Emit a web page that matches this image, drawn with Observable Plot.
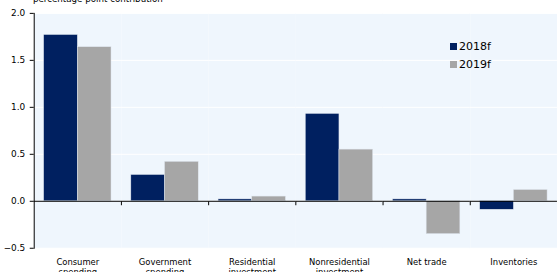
<!DOCTYPE html>
<html>
<head>
<meta charset="utf-8">
<script src="https://cdn.jsdelivr.net/npm/d3@7"></script>
<script src="https://cdn.jsdelivr.net/npm/@observablehq/plot@0.6"></script>
<style>
  html, body { margin: 0; padding: 0; background: #fff; overflow: hidden; }
  #wrap { position: relative; width: 557px; height: 274px; overflow: hidden; font-family: "DejaVu Sans", sans-serif; }
  #title { position: absolute; left: 33px; top: -6px; font-size: 8.7px; color: #000; white-space: nowrap; }
  #legend { position: absolute; left: 450px; top: 37px; font-size: 11px; color: #000; }
  #legend div { display: flex; align-items: center; height: 18px; }
  #legend span.sw { display: inline-block; width: 7px; height: 7px; margin-right: 2px; }
  #chart { position: absolute; left: 0; top: 0; }
</style>
</head>
<body>
<div id="wrap">
  <div id="chart"></div>
  <div id="title">percentage point contribution</div>
  <div id="legend"></div>
</div>
<script>
const categories = ["Consumer spending", "Government spending", "Residential investment", "Nonresidential investment", "Net trade", "Inventories"];
const seriesNames = ["2018f", "2019f"];
const values2018 = [1.77, 0.28, 0.02, 0.93, 0.02, -0.09];
const values2019 = [1.64, 0.42, 0.05, 0.55, -0.35, 0.12];
const colors = ["#002060", "#a6a6a6"];
const yTicks = [-0.5, 0.0, 0.5, 1.0, 1.5, 2.0];

const data = [];
categories.forEach((c, i) => {
  data.push({category: c, series: seriesNames[0], value: values2018[i]});
  data.push({category: c, series: seriesNames[1], value: values2019[i]});
});

const tickSymbol = {
  draw(context) {
    context.moveTo(0, 0);
    context.lineTo(0, 4);
  }
};

const chart = Plot.plot({
  width: 562,
  height: 274,
  marginLeft: 34,
  marginRight: 0,
  marginTop: 13,
  marginBottom: 24,
  style: {fontFamily: "DejaVu Sans, sans-serif", fontSize: "9px", color: "#000", background: "transparent"},
  fx: {domain: categories, padding: 0, label: null},
  x: {domain: seriesNames, paddingInner: 0, paddingOuter: 0.26, axis: null},
  y: {domain: [-0.5, 2.0], label: null},
  color: {domain: seriesNames, range: colors},
  marks: [
    Plot.frame({fill: "#eff6fd", stroke: null}),
    Plot.gridY(yTicks, {stroke: "#fff", strokeOpacity: 1, strokeWidth: 1}),
    Plot.barY(data, {fx: "category", x: "series", y: "value", fill: "series", stroke: "#dfe6ee", strokeWidth: 0.5}),
    Plot.ruleY([0], {stroke: "#000", strokeWidth: 1}),
    Plot.dot(categories.slice(1), {fx: d => d, y: () => 0, frameAnchor: "left", symbol: tickSymbol, r: 3, stroke: "#000", strokeWidth: 1, fill: "none"}),
    Plot.axisY(yTicks, {tickSize: 4, tickPadding: 5, tickFormat: d3.format(".1f"), fontSize: 9}),
    Plot.frame({anchor: "left", stroke: "#000", strokeOpacity: 1, facetAnchor: "left"}),
    Plot.axisFx({anchor: "bottom", tickSize: 0, tickPadding: 9, fontSize: 8.5, lineHeight: 1.25, tickFormat: d => d.length > 11 ? d.replace(" ", "\n") : d})
  ]
});
document.getElementById("chart").appendChild(chart);

const legend = document.getElementById("legend");
seriesNames.forEach((s, i) => {
  const row = document.createElement("div");
  const sw = document.createElement("span");
  sw.className = "sw";
  sw.style.background = colors[i];
  row.appendChild(sw);
  row.appendChild(document.createTextNode(s));
  legend.appendChild(row);
});
</script>
</body>
</html>
